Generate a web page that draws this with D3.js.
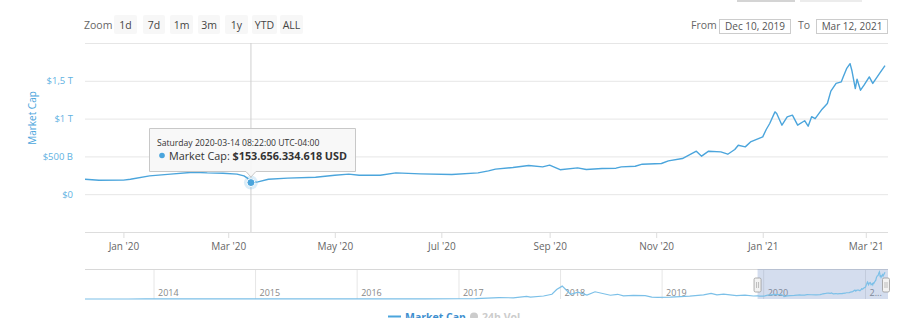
<!DOCTYPE html>
<html>
<head>
<meta charset="utf-8">
<script src="https://cdn.jsdelivr.net/npm/d3@7"></script>
<style>
  body { margin: 0; background: #fff; }
  svg { font-family: "Open Sans", sans-serif; display: block; }
</style>
</head>
<body>
<svg id="chart" width="900" height="318"></svg>
<script>
// main series, Dec 2019 - Mar 2021 (values in billions USD)
var capDates = ['2019-12-10', '2019-12-18', '2020-01-01', '2020-01-05', '2020-01-16', '2020-01-28', '2020-02-10',
  '2020-02-18', '2020-02-27', '2020-03-06', '2020-03-10', '2020-03-12', '2020-03-14', '2020-03-18', '2020-03-24',
  '2020-04-04', '2020-04-20', '2020-05-01', '2020-05-09', '2020-05-15', '2020-05-27', '2020-06-05', '2020-06-19',
  '2020-07-07', '2020-07-22', '2020-07-28', '2020-08-01', '2020-08-11', '2020-08-20', '2020-08-28', '2020-09-01',
  '2020-09-07', '2020-09-17', '2020-09-22', '2020-10-01', '2020-10-09', '2020-10-12', '2020-10-20', '2020-10-24',
  '2020-11-04', '2020-11-08', '2020-11-16', '2020-11-24', '2020-11-27', '2020-12-01', '2020-12-08', '2020-12-12',
  '2020-12-16', '2020-12-18', '2020-12-22', '2020-12-25', '2021-01-01', '2021-01-03', '2021-01-05', '2021-01-08',
  '2021-01-09', '2021-01-12', '2021-01-15', '2021-01-18', '2021-01-21', '2021-01-25', '2021-01-27', '2021-01-29',
  '2021-01-31', '2021-02-04', '2021-02-07', '2021-02-09', '2021-02-12', '2021-02-15', '2021-02-16', '2021-02-18',
  '2021-02-20', '2021-02-21', '2021-02-23', '2021-02-24', '2021-02-26', '2021-02-28', '2021-03-03', '2021-03-05',
  '2021-03-09', '2021-03-12']
var capValues = [198, 185, 186, 198, 242, 265, 291,
  282, 278, 265, 242, 212, 153.66, 163, 198,
  212, 225, 251, 265, 251, 251, 282, 269,
  261, 282, 308, 331, 353, 380, 361, 384,
  324, 348, 327, 340, 344, 361, 370, 397,
  406, 441, 472, 569, 503, 569, 560, 529,
  591, 648, 626, 692, 758, 856, 935, 1089,
  1068, 913, 1023, 1045, 913, 972, 900, 1025,
  999, 1125, 1200, 1363, 1465, 1486, 1548, 1660,
  1727, 1640, 1396, 1521, 1376, 1442, 1552, 1465,
  1601, 1700]

// older history for the navigator (billions USD)
var histDates = ['2013-04-28', '2013-07-01', '2013-10-01', '2013-11-30', '2013-12-20', '2014-01-05', '2014-03-01',
  '2014-06-01', '2014-09-01', '2014-12-01', '2015-01-15', '2015-06-01', '2015-11-05', '2016-01-01', '2016-06-15',
  '2016-09-01', '2016-12-31', '2017-03-01', '2017-05-25', '2017-07-15', '2017-09-01', '2017-09-15', '2017-11-01',
  '2017-12-01', '2017-12-18', '2018-01-07', '2018-02-06', '2018-03-05', '2018-04-06', '2018-05-05', '2018-06-29',
  '2018-07-25', '2018-08-15', '2018-09-20', '2018-11-01', '2018-11-25', '2018-12-15', '2019-01-31', '2019-04-10',
  '2019-05-30', '2019-06-26', '2019-07-17', '2019-08-10', '2019-09-25', '2019-10-26', '2019-11-25']
var histValues = [1.5, 1, 1.6, 13, 8, 11, 7,
  8, 6, 5, 3, 3.5, 6, 7, 12,
  11, 17, 22, 90, 75, 170, 120, 190,
  300, 600, 820, 300, 440, 250, 460, 240,
  300, 200, 230, 210, 125, 100, 115, 185,
  260, 360, 260, 310, 210, 250, 190]

var yTicks = [-500, 0, 500, 1000, 1500, 2000]
var yTickLabels = ['', '$0', '$500 B', '$1 T', '$1,5 T', '']
var zoomButtons = ['1d', '7d', '1m', '3m', '1y', 'YTD', 'ALL']
var navYears = ['2014', '2015', '2016', '2017', '2018', '2019', '2020', '2021']

var BLUE = '#4ba5dc'
var parse = d3.timeParse('%Y-%m-%d')
var svg = d3.select('#chart')

var main = capDates.map(function(d, i) { return { date: parse(d), value: capValues[i] } })
var hist = histDates.map(function(d, i) { return { date: parse(d), value: histValues[i] } }).concat(main)

var plotLeft = 85, plotRight = 888, plotTop = 43, plotBottom = 232

var x = d3.scaleTime()
  .domain([parse('2019-12-10'), parse('2021-03-12')])
  .range([plotLeft, 885])
var y = d3.scaleLinear().domain([-500, 2000]).range([plotBottom, plotTop])

// faint bars at the very top
svg.append('rect').attr('x', 737).attr('y', 0).attr('width', 58).attr('height', 2).attr('fill', '#d4d4d4')
svg.append('rect').attr('x', 800).attr('y', 0).attr('width', 62).attr('height', 2).attr('fill', '#ececec')

// zoom buttons
svg.append('text').attr('x', 84).attr('y', 29).attr('font-size', 10.5).attr('fill', '#666').text('Zoom')
var btnX = [114, 143, 170, 198, 225, 252, 280]
var btnW = [23, 22, 23, 22, 23, 25, 23]
var btns = svg.selectAll('g.btn').data(zoomButtons).enter().append('g').attr('class', 'btn')
btns.append('rect')
  .attr('x', function(d, i) { return btnX[i] })
  .attr('y', 15).attr('width', function(d, i) { return btnW[i] }).attr('height', 19)
  .attr('rx', 2).attr('fill', '#f7f7f7')
btns.append('text')
  .attr('x', function(d, i) { return btnX[i] + btnW[i] / 2 })
  .attr('y', 29).attr('text-anchor', 'middle').attr('font-size', 10.5).attr('fill', '#444')
  .text(function(d) { return d })

// from / to inputs
svg.append('text').attr('x', 691).attr('y', 29).attr('font-size', 10.5).attr('fill', '#666').text('From')
svg.append('rect').attr('x', 719.5).attr('y', 19.5).attr('width', 71).attr('height', 14).attr('fill', '#fff').attr('stroke', '#ccc')
svg.append('text').attr('x', 755).attr('y', 30).attr('text-anchor', 'middle').attr('font-size', 10).attr('fill', '#555').text('Dec 10, 2019')
svg.append('text').attr('x', 798).attr('y', 29).attr('font-size', 10.5).attr('fill', '#666').text('To')
svg.append('rect').attr('x', 816.5).attr('y', 19.5).attr('width', 71).attr('height', 14).attr('fill', '#fff').attr('stroke', '#ccc')
svg.append('text').attr('x', 852).attr('y', 30).attr('text-anchor', 'middle').attr('font-size', 10).attr('fill', '#555').text('Mar 12, 2021')

// y axis with gridlines
var yAxis = svg.append('g')
  .attr('transform', 'translate(' + plotLeft + ',0)')
  .call(d3.axisLeft(y).tickValues(yTicks).tickSize(-(plotRight - plotLeft)).tickPadding(12)
    .tickFormat(function(d, i) { return yTickLabels[i] }))
yAxis.select('.domain').remove()
yAxis.selectAll('.tick line').attr('stroke', '#e6e6e6')
yAxis.selectAll('.tick text').attr('fill', '#5fb2e2').attr('font-size', 9.5).attr('font-family', '"Open Sans", sans-serif')

svg.append('text')
  .attr('transform', 'translate(36,118) rotate(-90)')
  .attr('text-anchor', 'middle').attr('font-size', 10).attr('fill', BLUE)
  .text('Market Cap')

// x axis
var xAxis = svg.append('g')
  .attr('transform', 'translate(0,' + plotBottom + ')')
  .call(d3.axisBottom(x).ticks(d3.timeMonth.every(2)).tickSize(6).tickPadding(5)
    .tickFormat(d3.timeFormat("%b '%y")))
xAxis.select('.domain').attr('d', 'M' + plotLeft + ',0.5H' + plotRight).attr('stroke', '#ddd')
xAxis.selectAll('.tick line').attr('stroke', '#ddd')
xAxis.selectAll('.tick text').attr('fill', '#666').attr('font-size', 10).attr('font-family', '"Open Sans", sans-serif')

// crosshair
var hover = main[12]
svg.append('line')
  .attr('x1', x(hover.date)).attr('x2', x(hover.date))
  .attr('y1', plotTop).attr('y2', plotBottom)
  .attr('stroke', '#cfcfcf').attr('stroke-width', 1)

// main line
var line = d3.line()
  .x(function(d) { return x(d.date) })
  .y(function(d) { return y(d.value) })
svg.append('path').datum(main)
  .attr('d', line).attr('fill', 'none').attr('stroke', BLUE).attr('stroke-width', 1.4)
  .attr('stroke-linejoin', 'round')

// hover marker
svg.append('circle').attr('cx', x(hover.date)).attr('cy', y(hover.value)).attr('r', 7)
  .attr('fill', BLUE).attr('opacity', 0.2)
svg.append('circle').attr('cx', x(hover.date)).attr('cy', y(hover.value)).attr('r', 4)
  .attr('fill', BLUE).attr('stroke', '#fff').attr('stroke-width', 1)

// tooltip
var tx = x(hover.date)
var tip = svg.append('g')
tip.append('path')
  .attr('d', 'M149.5,128.5H355.5V171.5H' + (tx + 5) + 'L' + tx + ',177L' + (tx - 5) + ',171.5H149.5Z')
  .attr('fill', 'rgba(247,247,247,0.9)').attr('stroke', '#c8c8c8')
tip.append('text').attr('x', 157).attr('y', 145.5).attr('font-size', 8.6).attr('fill', '#333')
  .text('Saturday 2020-03-14 08:22:00 UTC-04:00')
tip.append('circle').attr('cx', 162).attr('cy', 155.5).attr('r', 2.8).attr('fill', BLUE)
var t2 = tip.append('text').attr('x', 169).attr('y', 159.5).attr('font-size', 10.8).attr('fill', '#333')
t2.append('tspan').text('Market Cap: ')
t2.append('tspan').attr('font-weight', 'bold').text('$153.656.334.618 USD')

// navigator
var navTop = 269, navBottom = 299
var nx = d3.scaleTime().domain([parse('2013-04-28'), parse('2021-03-12')]).range([plotLeft, 885])
var ny = d3.scaleLinear().domain([0, 1910]).range([navBottom, navTop])

var yearDates = navYears.map(function(d) { return parse(d + '-01-01') })
svg.selectAll('line.navgrid').data(yearDates).enter().append('line')
  .attr('x1', function(d) { return nx(d) }).attr('x2', function(d) { return nx(d) })
  .attr('y1', navTop).attr('y2', navBottom).attr('stroke', '#e6e6e6')
svg.append('line').attr('x1', plotLeft).attr('x2', plotRight).attr('y1', navTop + 0.5).attr('y2', navTop + 0.5).attr('stroke', '#d8d8d8')

svg.selectAll('text.navlab').data(yearDates).enter().append('text')
  .attr('x', function(d) { return nx(d) + 4 }).attr('y', 296)
  .attr('font-size', 9).attr('fill', '#888')
  .text(function(d, i) { return i === navYears.length - 1 ? '2...' : navYears[i] })

// selected range shading
svg.append('rect')
  .attr('x', nx(x.domain()[0])).attr('y', navTop)
  .attr('width', plotRight - nx(x.domain()[0])).attr('height', navBottom - navTop)
  .attr('fill', 'rgba(102,133,194,0.28)')

var navLine = d3.line()
  .x(function(d) { return nx(d.date) })
  .y(function(d) { return ny(d.value) })
svg.append('path').datum(hist)
  .attr('d', navLine).attr('fill', 'none').attr('stroke', '#7cc0e8').attr('stroke-width', 1.2)

// handles
;[nx(x.domain()[0]), plotRight - 2].forEach(function(hx) {
  svg.append('rect').attr('x', hx - 3.5).attr('y', 278).attr('width', 7).attr('height', 14).attr('rx', 1.5)
    .attr('fill', '#f2f2f2').attr('stroke', '#999').attr('stroke-width', 0.8)
  svg.append('line').attr('x1', hx - 1).attr('x2', hx - 1).attr('y1', 282).attr('y2', 288).attr('stroke', '#999').attr('stroke-width', 0.6)
  svg.append('line').attr('x1', hx + 1).attr('x2', hx + 1).attr('y1', 282).attr('y2', 288).attr('stroke', '#999').attr('stroke-width', 0.6)
})

// legend (cut off at the bottom, as in the source)
svg.append('line').attr('x1', 388).attr('x2', 401).attr('y1', 316.5).attr('y2', 316.5).attr('stroke', BLUE).attr('stroke-width', 2)
svg.append('text').attr('x', 405).attr('y', 321).attr('font-size', 10.5).attr('font-weight', 'bold').attr('fill', '#3e8fcf').text('Market Cap')
svg.append('circle').attr('cx', 474).attr('cy', 316.5).attr('r', 4).attr('fill', '#ccc')
svg.append('text').attr('x', 482).attr('y', 321).attr('font-size', 10.5).attr('font-weight', 'bold').attr('fill', '#ccc').text('24h Vol')
</script>
</body>
</html>
